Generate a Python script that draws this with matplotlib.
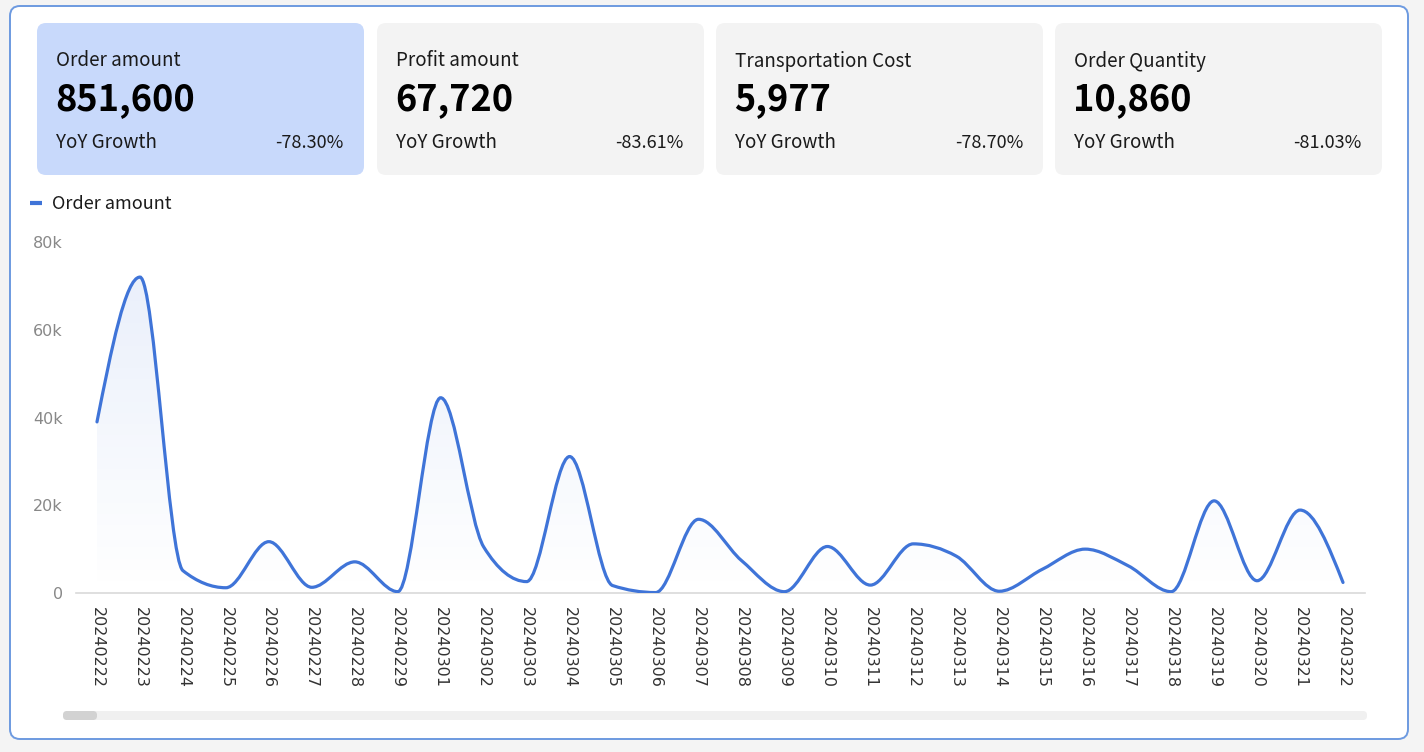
"""
Order amount dashboard: four KPI cards plus a smoothed daily line chart.
"""

import numpy as np
import matplotlib
matplotlib.use('Agg')
import matplotlib.pyplot as plt
import matplotlib.patches as patches
from matplotlib.path import Path
from matplotlib.ticker import FuncFormatter

plt.rcParams['font.family'] = ['Noto Sans CJK SC', 'DejaVu Sans']

# KPI cards
card_titles = ['Order amount', 'Profit amount', 'Transportation Cost', 'Order Quantity']
card_values = ['851,600', '67,720', '5,977', '10,860']
card_growth = ['-78.30%', '-83.61%', '-78.70%', '-81.03%']

# daily order amount
dates = ['20240222', '20240223', '20240224', '20240225', '20240226', '20240227',
         '20240228', '20240229', '20240301', '20240302', '20240303', '20240304',
         '20240305', '20240306', '20240307', '20240308', '20240309', '20240310',
         '20240311', '20240312', '20240313', '20240314', '20240315', '20240316',
         '20240317', '20240318', '20240319', '20240320', '20240321', '20240322']
order_amount = [39000, 72000, 5100, 1200, 11700, 1300, 7100, 300, 44500, 10500,
                2600, 31100, 1700, 100, 16800, 7400, 300, 10600, 1800, 11200,
                8400, 400, 5400, 10000, 6200, 300, 21000, 2800, 18900, 2400]

BLUE = '#3f74d8'
W, H = 1424, 752


def monotone_path(x, y):
    """d3 monotoneX curve as a matplotlib bezier path"""
    x = np.asarray(x, float)
    y = np.asarray(y, float)
    n = len(x)
    h = np.diff(x)
    s = np.diff(y) / h
    t = np.zeros(n)
    for i in range(1, n - 1):
        p = (s[i - 1] * h[i] + s[i] * h[i - 1]) / (h[i - 1] + h[i])
        t[i] = (np.sign(s[i - 1]) + np.sign(s[i])) * min(abs(s[i - 1]), abs(s[i]), 0.5 * abs(p))
    t[0] = (3 * s[0] - t[1]) / 2
    t[-1] = (3 * s[-1] - t[-2]) / 2
    verts = [(x[0], y[0])]
    codes = [Path.MOVETO]
    for i in range(n - 1):
        dx = h[i] / 3
        verts += [(x[i] + dx, y[i] + dx * t[i]),
                  (x[i + 1] - dx, y[i + 1] - dx * t[i + 1]),
                  (x[i + 1], y[i + 1])]
        codes += [Path.CURVE4] * 3
    return verts, codes


fig = plt.figure(figsize=(W / 100, H / 100), dpi=100)
fig.patch.set_facecolor('#f4f4f4')

# background layer in pixel coordinates
bg = fig.add_axes([0, 0, 1, 1], zorder=0)
bg.set_xlim(0, W)
bg.set_ylim(H, 0)
bg.axis('off')

bg.add_patch(patches.FancyBboxPatch(
    (10, 6), 1398, 733, boxstyle='round,pad=0,rounding_size=10',
    facecolor='white', edgecolor='#6d9ae0', linewidth=1.4))

card_x = [37, 377, 716, 1055]
card_w = 327
for i, (title, value, growth) in enumerate(zip(card_titles, card_values, card_growth)):
    x0 = card_x[i]
    face = '#c8d9fb' if i == 0 else '#f3f3f3'
    bg.add_patch(patches.FancyBboxPatch(
        (x0, 23), card_w, 152, boxstyle='round,pad=0,rounding_size=9',
        facecolor=face, edgecolor='none'))
    bg.text(x0 + 19, 61, title, fontsize=13.5, color='#1a1a1a', va='center', ha='left')
    bg.text(x0 + 18, 100, value, fontsize=26, fontweight='bold', color='black',
            va='center', ha='left')
    bg.text(x0 + 19, 143, 'YoY Growth', fontsize=13.5, color='#1a1a1a', va='center', ha='left')
    bg.text(x0 + card_w - 20, 143, growth, fontsize=13, color='#1a1a1a',
            va='center', ha='right')

# legend
bg.plot([30, 42], [203, 203], color=BLUE, linewidth=3, solid_capstyle='butt')
bg.text(52, 204, 'Order amount', fontsize=13, color='#1a1a1a', va='center', ha='left')

# scrollbar
bg.add_patch(patches.FancyBboxPatch(
    (63, 711), 1304, 9, boxstyle='round,pad=0,rounding_size=4',
    facecolor='#f0f0f0', edgecolor='none'))
bg.add_patch(patches.FancyBboxPatch(
    (63, 711), 34, 9, boxstyle='round,pad=0,rounding_size=4',
    facecolor='#d2d2d2', edgecolor='none'))

# line chart
ax = fig.add_axes([75.5 / W, (H - 593) / H, 1289 / W, 351 / H], zorder=1)
ax.patch.set_alpha(0)
xs = np.arange(len(dates))

verts, codes = monotone_path(xs, order_amount)
line = patches.PathPatch(Path(verts, codes), facecolor='none', edgecolor=BLUE,
                         linewidth=2.3, capstyle='round', zorder=3)
ax.add_patch(line)

# gradient fill under the curve
fill_verts = verts + [(xs[-1], 0), (xs[0], 0), (xs[0], order_amount[0])]
fill_codes = codes + [Path.LINETO, Path.LINETO, Path.CLOSEPOLY]
fill_patch = patches.PathPatch(Path(fill_verts, fill_codes), facecolor='none',
                               edgecolor='none')
ax.add_patch(fill_patch)
grad = np.zeros((256, 1, 4))
grad[:, 0, 0], grad[:, 0, 1], grad[:, 0, 2] = 0.25, 0.45, 0.85
grad[:, 0, 3] = np.linspace(0.0, 0.11, 256)
img = ax.imshow(grad, extent=[xs[0], xs[-1], 0, 72000], origin='lower',
                aspect='auto', zorder=2, interpolation='bilinear')
img.set_clip_path(fill_patch)
ax.set_xlim(-0.5, len(dates) - 0.5)
ax.set_ylim(0, 80000)

ax.set_xticks(xs)
ax.set_xticklabels(dates, rotation=-90, fontsize=11.5, color='#333333',
                   family='DejaVu Sans')
ax.set_yticks([0, 20000, 40000, 60000, 80000])
ax.yaxis.set_major_formatter(FuncFormatter(lambda v, _: '0' if v == 0 else f'{int(v / 1000)}k'))
for lbl in ax.get_yticklabels():
    lbl.set_family('DejaVu Sans')
ax.tick_params(axis='x', length=0, pad=10)
ax.tick_params(axis='y', length=0, pad=9, labelsize=11.5, labelcolor='#888888',
               labelfontfamily='DejaVu Sans')
for side in ['top', 'right', 'left']:
    ax.spines[side].set_visible(False)
ax.spines['bottom'].set_color('#d9d9d9')
ax.spines['bottom'].set_linewidth(1.2)

fig.savefig('out.png', dpi=100, facecolor=fig.get_facecolor())
